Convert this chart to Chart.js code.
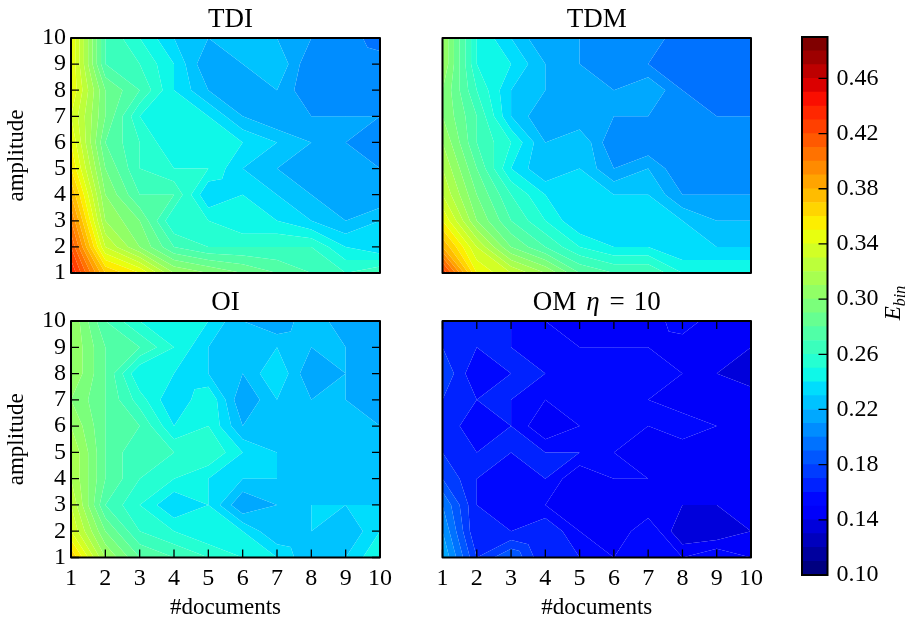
<!DOCTYPE html>
<html>
<head>
<meta charset="utf-8">
<title>Ebin contours</title>
<script src="https://cdn.jsdelivr.net/npm/chart.js@4"></script>
<style>
    body { margin: 0; background: #fff; }
    canvas { position: absolute; }
</style>
</head>
<body>
<canvas id="tdi"></canvas>
<canvas id="tdm"></canvas>
<canvas id="oi"></canvas>
<canvas id="om"></canvas>
<canvas id="colorbar"></canvas>
<script>
const documents = [1, 2, 3, 4, 5, 6, 7, 8, 9, 10];
const amplitude = [10, 9, 8, 7, 6, 5, 4, 3, 2, 1]; // rows below run from top to bottom
const tickValues = [1, 2, 3, 4, 5, 6, 7, 8, 9, 10];
const colorbarTicks = [0.10, 0.14, 0.18, 0.22, 0.26, 0.30, 0.34, 0.38, 0.42, 0.46];

const tdiValues = [
    [0.35, 0.27, 0.25, 0.23, 0.22, 0.22, 0.22, 0.21, 0.21, 0.19],
    [0.35, 0.27, 0.26, 0.24, 0.21, 0.22, 0.23, 0.20, 0.205, 0.21],
    [0.35, 0.29, 0.27, 0.24, 0.22, 0.21, 0.22, 0.20, 0.20, 0.20],
    [0.34, 0.29, 0.25, 0.24, 0.24, 0.22, 0.21, 0.21, 0.21, 0.21],
    [0.35, 0.28, 0.26, 0.24, 0.24, 0.24, 0.23, 0.22, 0.21, 0.20],
    [0.36, 0.29, 0.26, 0.25, 0.25, 0.23, 0.22, 0.21, 0.21, 0.21],
    [0.38, 0.30, 0.27, 0.27, 0.23, 0.24, 0.23, 0.22, 0.21, 0.21],
    [0.40, 0.31, 0.29, 0.25, 0.25, 0.24, 0.24, 0.23, 0.22, 0.23],
    [0.42, 0.33, 0.30, 0.27, 0.26, 0.26, 0.26, 0.26, 0.24, 0.23],
    [0.44, 0.37, 0.35, 0.31, 0.30, 0.29, 0.28, 0.27, 0.26, 0.27]
];
const tdmValues = [
    [0.31, 0.25, 0.23, 0.21, 0.21, 0.20, 0.205, 0.195, 0.19, 0.19],
    [0.31, 0.25, 0.24, 0.22, 0.21, 0.20, 0.20, 0.19, 0.19, 0.19],
    [0.30, 0.26, 0.23, 0.22, 0.21, 0.21, 0.22, 0.20, 0.19, 0.19],
    [0.30, 0.27, 0.23, 0.21, 0.21, 0.21, 0.21, 0.20, 0.20, 0.20],
    [0.31, 0.27, 0.25, 0.22, 0.23, 0.20, 0.20, 0.20, 0.20, 0.20],
    [0.32, 0.28, 0.24, 0.22, 0.23, 0.21, 0.22, 0.20, 0.20, 0.20],
    [0.33, 0.29, 0.26, 0.24, 0.23, 0.23, 0.23, 0.21, 0.21, 0.21],
    [0.35, 0.30, 0.27, 0.25, 0.23, 0.23, 0.23, 0.23, 0.22, 0.22],
    [0.38, 0.33, 0.29, 0.27, 0.25, 0.24, 0.24, 0.23, 0.23, 0.23],
    [0.43, 0.35, 0.33, 0.31, 0.28, 0.27, 0.27, 0.25, 0.25, 0.25]
];
const oiValues = [
    [0.31, 0.27, 0.25, 0.24, 0.24, 0.22, 0.21, 0.23, 0.21, 0.21],
    [0.31, 0.28, 0.27, 0.25, 0.23, 0.22, 0.23, 0.22, 0.22, 0.21],
    [0.31, 0.28, 0.24, 0.24, 0.23, 0.22, 0.24, 0.21, 0.22, 0.21],
    [0.30, 0.28, 0.255, 0.23, 0.25, 0.21, 0.23, 0.22, 0.22, 0.21],
    [0.31, 0.28, 0.27, 0.24, 0.25, 0.22, 0.22, 0.22, 0.22, 0.22],
    [0.32, 0.28, 0.26, 0.26, 0.26, 0.24, 0.23, 0.22, 0.22, 0.22],
    [0.32, 0.28, 0.26, 0.25, 0.24, 0.23, 0.23, 0.22, 0.22, 0.22],
    [0.33, 0.27, 0.25, 0.23, 0.24, 0.21, 0.22, 0.23, 0.23, 0.23],
    [0.34, 0.29, 0.26, 0.25, 0.24, 0.24, 0.22, 0.23, 0.22, 0.24],
    [0.37, 0.31, 0.28, 0.27, 0.26, 0.25, 0.24, 0.22, 0.23, 0.25]
];
const omValues = [
    [0.16, 0.16, 0.16, 0.15, 0.14, 0.14, 0.14, 0.16, 0.14, 0.14],
    [0.17, 0.16, 0.16, 0.155, 0.15, 0.15, 0.15, 0.14, 0.14, 0.14],
    [0.18, 0.15, 0.16, 0.16, 0.155, 0.15, 0.155, 0.15, 0.14, 0.13],
    [0.17, 0.16, 0.16, 0.15, 0.155, 0.155, 0.15, 0.145, 0.14, 0.15],
    [0.17, 0.15, 0.16, 0.14, 0.15, 0.155, 0.15, 0.155, 0.15, 0.14],
    [0.17, 0.16, 0.16, 0.16, 0.16, 0.15, 0.14, 0.145, 0.14, 0.14],
    [0.18, 0.16, 0.15, 0.16, 0.14, 0.15, 0.15, 0.14, 0.14, 0.14],
    [0.20, 0.16, 0.15, 0.15, 0.14, 0.14, 0.14, 0.14, 0.14, 0.14],
    [0.21, 0.16, 0.16, 0.17, 0.15, 0.14, 0.16, 0.13, 0.13, 0.14],
    [0.22, 0.17, 0.19, 0.16, 0.16, 0.15, 0.15, 0.15, 0.16, 0.15]
];

// contour levels 0.10 .. 0.49, in hundredths so they compare equal to the values above
const levels = [];
for (let i = 10; i <= 49; i++) {
    levels.push(i / 100);
}

const FONT = '"Liberation Serif", serif';

// matplotlib jet
function jetChannel(points, t) {
    for (let i = 1; i < points.length; i++) {
        if (t <= points[i][0]) {
            const a = points[i - 1];
            const b = points[i];
            return a[1] + (b[1] - a[1]) * (t - a[0]) / (b[0] - a[0]);
        }
    }
    return points[points.length - 1][1];
}

function jet(t) {
    const r = jetChannel([[0, 0], [0.35, 0], [0.66, 1], [0.89, 1], [1, 0.5]], t);
    const g = jetChannel([[0, 0], [0.125, 0], [0.375, 1], [0.64, 1], [0.91, 0], [1, 0]], t);
    const b = jetChannel([[0, 0.5], [0.11, 1], [0.34, 1], [0.65, 0], [1, 0]], t);
    return `rgb(${Math.round(r * 255)}, ${Math.round(g * 255)}, ${Math.round(b * 255)})`;
}

function bandColor(i) {
    return jet(i / (levels.length - 2));
}

// keep the part of a polygon where keep(z) is true, z is linear along the edges
function clipPolygon(poly, level, keep) {
    const out = [];
    poly.forEach((p, i) => {
        const q = poly[(i + 1) % poly.length];
        if (keep(p.z)) {
            out.push(p);
        }
        if (keep(p.z) !== keep(q.z)) {
            const t = (level - p.z) / (q.z - p.z);
            out.push({ x: p.x + (q.x - p.x) * t, y: p.y + (q.y - p.y) * t, z: level });
        }
    });
    return out;
}

// a saddle cell is split around its mean, any other cell stays one quad
function cellPolygons(q) {
    const [a, b, c, d] = q.map(p => p.z);
    const saddle = Math.min(a, c) > Math.max(b, d) || Math.min(b, d) > Math.max(a, c);
    if (!saddle) {
        return [q];
    }
    const mid = {
        x: (q[0].x + q[2].x) / 2,
        y: (q[0].y + q[2].y) / 2,
        z: (a + b + c + d) / 4
    };
    return q.map((p, i) => [p, q[(i + 1) % 4], mid]);
}

const contourPlugin = {
    id: 'contourFill',
    beforeDatasetsDraw(chart) {
        const { ctx, scales } = chart;
        const points = chart.data.datasets[0].data;
        const cols = documents.length;
        const rows = amplitude.length;
        for (let band = 0; band < levels.length - 1; band++) {
            const lo = levels[band];
            const hi = levels[band + 1];
            ctx.beginPath();
            for (let r = 0; r < rows - 1; r++) {
                for (let c = 0; c < cols - 1; c++) {
                    const i = r * cols + c;
                    const quad = [points[i], points[i + 1], points[i + cols + 1], points[i + cols]].map(p => ({
                        x: scales.x.getPixelForValue(p.x),
                        y: scales.y.getPixelForValue(p.y),
                        z: p.z
                    }));
                    cellPolygons(quad).forEach(part => {
                        let poly = clipPolygon(part, lo, z => z >= lo);
                        poly = clipPolygon(poly, hi, z => z < hi);
                        if (poly.length < 3) {
                            return;
                        }
                        ctx.moveTo(poly[0].x, poly[0].y);
                        poly.slice(1).forEach(p => ctx.lineTo(p.x, p.y));
                        ctx.closePath();
                    });
                }
            }
            ctx.fillStyle = bandColor(band);
            ctx.fill();
        }
    }
};

function drawRuns(ctx, runs, x, y) {
    let width = 0;
    runs.forEach(run => {
        ctx.font = run.font;
        width += ctx.measureText(run.text).width + (run.gap || 0);
    });
    let cursor = x - width / 2;
    ctx.textAlign = 'left';
    ctx.textBaseline = 'alphabetic';
    ctx.fillStyle = '#000';
    runs.forEach(run => {
        ctx.font = run.font;
        ctx.fillText(run.text, cursor, y + (run.dy || 0));
        cursor += ctx.measureText(run.text).width + (run.gap || 0);
    });
}

// the label margins chart.js reserves would move the plot area, drop them
function noLabelMargins(scale) {
    scale.paddingTop = 0;
    scale.paddingBottom = 0;
    scale.paddingLeft = 0;
    scale.paddingRight = 0;
}

// inward ticks, frame and title of a panel
const framePlugin = {
    id: 'panelFrame',
    afterDatasetsDraw(chart, args, opts) {
        const { ctx, chartArea: area, scales } = chart;
        const len = 8;
        ctx.save();
        ctx.strokeStyle = '#000';
        ctx.lineWidth = 1.3;
        ctx.beginPath();
        if (opts.yTicks) {
            tickValues.forEach(v => {
                const y = scales.y.getPixelForValue(v);
                ctx.moveTo(area.left, y);
                ctx.lineTo(area.left + len, y);
                ctx.moveTo(area.right, y);
                ctx.lineTo(area.right - len, y);
            });
        }
        tickValues.forEach(v => {
            const x = scales.x.getPixelForValue(v);
            if (opts.xBottom) {
                ctx.moveTo(x, area.bottom);
                ctx.lineTo(x, area.bottom - len);
            }
            if (opts.xTop) {
                ctx.moveTo(x, area.top);
                ctx.lineTo(x, area.top + len);
            }
        });
        ctx.stroke();
        ctx.lineWidth = 2;
        ctx.lineJoin = 'round';
        ctx.strokeRect(area.left, area.top, area.right - area.left, area.bottom - area.top);
        drawRuns(ctx, opts.title, (area.left + area.right) / 2 + (opts.titleShift || 0), area.top - 11.5);
        ctx.restore();
    }
};

function makePanel(id, values, box, flags) {
    const canvas = document.getElementById(id);
    const width = box.right + 24 - box.canvasLeft;
    const height = box.bottom + box.below - box.canvasTop;
    canvas.width = width;
    canvas.height = height;
    canvas.style.left = box.canvasLeft + 'px';
    canvas.style.top = box.canvasTop + 'px';

    const points = [];
    amplitude.forEach((a, r) => {
        documents.forEach((d, c) => {
            points.push({ x: d, y: a, z: values[r][c] });
        });
    });

    new Chart(canvas.getContext('2d'), {
        type: 'scatter',
        data: { datasets: [{ data: points, pointRadius: 0, showLine: false }] },
        plugins: [contourPlugin, framePlugin],
        options: {
            responsive: false,
            animation: false,
            layout: { padding: { top: box.top - box.canvasTop, right: 24, bottom: flags.xLabels ? 0 : box.below, left: 0 } },
            plugins: {
                legend: { display: false },
                tooltip: { enabled: false },
                panelFrame: flags
            },
            scales: {
                x: {
                    type: 'linear',
                    min: 1,
                    max: 10,
                    grid: { display: false, drawTicks: false },
                    border: { display: false },
                    afterBuildTicks: s => { s.ticks = tickValues.map(v => ({ value: v })); },
                    afterFit: s => {
                        s.height = flags.xLabels ? box.below : 0;
                        noLabelMargins(s);
                    },
                    ticks: {
                        display: !!flags.xLabels,
                        autoSkip: false,
                        maxRotation: 0,
                        padding: 7,
                        color: '#000',
                        font: { family: FONT, size: 24 }
                    },
                    title: {
                        display: !!flags.xLabels,
                        text: '#documents',
                        color: '#000',
                        padding: { top: 0, bottom: 0 },
                        font: { family: FONT, size: 23 }
                    }
                },
                y: {
                    type: 'linear',
                    min: 1,
                    max: 10,
                    grid: { display: false, drawTicks: false },
                    border: { display: false },
                    afterBuildTicks: s => { s.ticks = tickValues.map(v => ({ value: v })); },
                    afterFit: s => {
                        s.width = box.left - box.canvasLeft;
                        noLabelMargins(s);
                    },
                    ticks: {
                        display: !!flags.yLabels,
                        autoSkip: false,
                        padding: 5,
                        color: '#000',
                        font: { family: FONT, size: 24 }
                    },
                    title: {
                        display: !!flags.yLabels,
                        text: 'amplitude',
                        color: '#000',
                        padding: { top: 3, bottom: 0 },
                        font: { family: FONT, size: 23 }
                    }
                }
            }
        }
    });
}

const titleFont = `27px ${FONT}`;
const titleItalic = `italic 27px ${FONT}`;

const topRow = { canvasTop: 0, top: 38, bottom: 273, below: 16 };
const bottomRow = { canvasTop: 285, top: 321, bottom: 557.5, below: 64.5 };
const leftCol = { canvasLeft: 0, left: 71, right: 380 };
const rightCol = { canvasLeft: 420, left: 442.5, right: 751.5 };

makePanel('tdi', tdiValues, { ...topRow, ...leftCol }, {
    yLabels: true, yTicks: true, titleShift: 5, title: [{ text: 'TDI', font: titleFont }]
});
makePanel('tdm', tdmValues, { ...topRow, ...rightCol }, {
    title: [{ text: 'TDM', font: titleFont }]
});
makePanel('oi', oiValues, { ...bottomRow, ...leftCol }, {
    xLabels: true, yLabels: true, yTicks: true, xBottom: true, title: [{ text: 'OI', font: titleFont }]
});
makePanel('om', omValues, { ...bottomRow, ...rightCol }, {
    xLabels: true, xBottom: true, xTop: true,
    title: [
        { text: 'OM', font: titleFont, gap: 10 },
        { text: 'η', font: titleItalic, gap: 10 },
        { text: '=', font: titleFont, gap: 9 },
        { text: '10', font: titleFont }
    ]
});

// colour bar: one floating bar per contour band
const cbCanvas = document.getElementById('colorbar');
cbCanvas.width = 908 - 790;
cbCanvas.height = 622 - 20;
cbCanvas.style.left = '790px';
cbCanvas.style.top = '20px';

const cbPlugin = {
    id: 'colorbarFrame',
    afterDatasetsDraw(chart) {
        const { ctx, chartArea: area, scales } = chart;
        ctx.save();
        ctx.strokeStyle = '#000';
        ctx.lineWidth = 1.3;
        ctx.beginPath();
        colorbarTicks.forEach(v => {
            const y = scales.y.getPixelForValue(v);
            ctx.moveTo(area.right, y);
            ctx.lineTo(area.right - 9, y);
        });
        ctx.stroke();
        ctx.lineWidth = 2;
        ctx.strokeRect(area.left, area.top, area.right - area.left, area.bottom - area.top);
        // axis label with subscript, rotated
        ctx.translate(110, 283);
        ctx.rotate(-Math.PI / 2);
        drawRuns(ctx, [
            { text: 'E', font: `italic 23px ${FONT}` },
            { text: 'bin', font: `italic 16px ${FONT}`, dy: 5 }
        ], 0, 0);
        ctx.restore();
    }
};

new Chart(cbCanvas.getContext('2d'), {
    type: 'bar',
    data: {
        labels: ['Ebin'],
        datasets: levels.slice(0, -1).map((lo, i) => ({
            data: [[lo, levels[i + 1]]],
            backgroundColor: bandColor(i),
            borderWidth: 0,
            grouped: false,
            barPercentage: 1,
            categoryPercentage: 1
        }))
    },
    plugins: [cbPlugin],
    options: {
        responsive: false,
        animation: false,
        layout: { padding: { top: 17, right: 0, bottom: 47, left: 12 } },
        plugins: { legend: { display: false }, tooltip: { enabled: false } },
        scales: {
            x: { display: false },
            y: {
                position: 'right',
                min: 0.10,
                max: 0.49,
                grid: { display: false, drawTicks: false },
                border: { display: false },
                afterBuildTicks: s => { s.ticks = colorbarTicks.map(v => ({ value: v })); },
                afterFit: s => {
                    s.width = 908 - 827.5;
                    noLabelMargins(s);
                },
                ticks: {
                    autoSkip: false,
                    padding: 9,
                    color: '#000',
                    font: { family: FONT, size: 24 },
                    callback: v => v.toFixed(2)
                }
            }
        }
    }
});
</script>
</body>
</html>
